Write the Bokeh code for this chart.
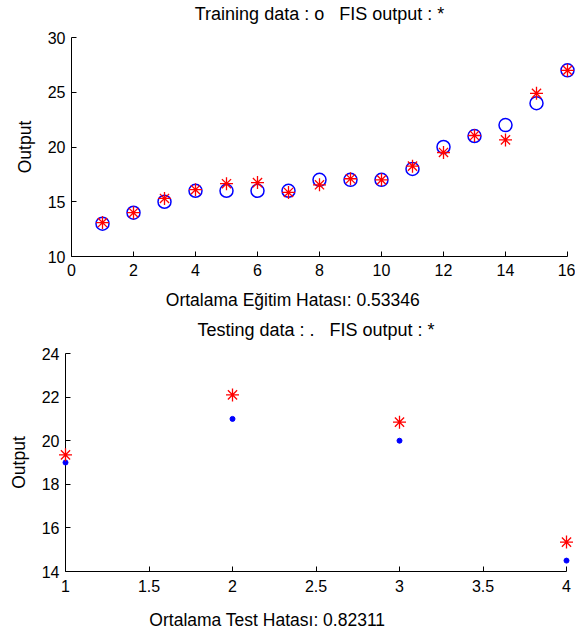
from bokeh.plotting import figure
from bokeh.layouts import column
from bokeh.models import Range1d, FixedTicker, CustomJSTickFormatter, LinearAxis
from bokeh.embed import file_html
from bokeh.resources import INLINE

# ---- data ----
train_x = list(range(1, 17))
train_y = [13, 14, 15, 16, 16, 16, 16, 17, 17, 17, 18, 20, 21, 22, 24, 27]
train_fis = [13.1, 14.0, 15.3, 16.1, 16.65, 16.75, 15.85, 16.55, 17.1, 17.0, 18.25, 19.5, 21.05, 20.65, 24.9, 27.0]

test_x = [1, 2, 3, 4]
test_y = [19.0, 21.0, 20.0, 14.5]
test_fis = [19.35, 22.1, 20.85, 15.35]

top_xticks = [0, 2, 4, 6, 8, 10, 12, 14, 16]
top_yticks = [10, 15, 20, 25, 30]
bot_xticks = [1, 1.5, 2, 2.5, 3, 3.5, 4]
bot_yticks = [14, 16, 18, 20, 22, 24]

top_title = "Training data : o \u00a0 FIS output : *"
top_xlabel = "Ortalama Eğitim Hatası: 0.53346"
bot_title = "Testing data : . \u00a0 FIS output : *"
bot_xlabel = "Ortalama Test Hatası: 0.82311"
ylabel = "Output"

FONT = "Liberation Sans"
NBSP = "\u00a0"
fmt = CustomJSTickFormatter(code="return String(Math.round(tick*1000)/1000);")


def text_axis(label, standoff, size):
    return LinearAxis(ticker=FixedTicker(ticks=[]), axis_label=label,
                      axis_line_color=None, major_tick_line_color=None,
                      minor_tick_line_color=None, major_label_standoff=0,
                      major_tick_in=0, major_tick_out=0, minor_tick_in=0, minor_tick_out=0,
                      axis_label_standoff=standoff, axis_label_text_font=FONT,
                      axis_label_text_font_size=size, axis_label_text_font_style="normal",
                      axis_label_text_color="black")


def style(p, xt, yt, title, xlabel, title_standoff, xlab_standoff, xlab_pad, xtick_standoff):
    xax = p.xaxis[0]
    yax = p.yaxis[0]
    p.xgrid.visible = False
    p.ygrid.visible = False
    p.outline_line_color = None
    p.background_fill_color = "white"
    p.border_fill_color = "white"
    p.frame_align = False
    for ax in (xax, yax):
        ax.major_tick_in = 5
        ax.major_tick_out = 0
        ax.minor_tick_line_color = None
        ax.major_label_text_font = FONT
        ax.major_label_text_font_size = "16px"
        ax.major_label_text_color = "black"
        ax.axis_line_color = "black"
        ax.major_tick_line_color = "black"
        ax.major_label_standoff = 6
        ax.formatter = fmt
    xax.major_label_standoff = xtick_standoff
    xax.ticker = FixedTicker(ticks=xt)
    yax.ticker = FixedTicker(ticks=yt)
    yax.axis_label = ylabel
    yax.axis_label_text_font = FONT
    yax.axis_label_text_font_size = "17.5px"
    yax.axis_label_text_font_style = "normal"
    yax.axis_label_text_color = "black"
    yax.axis_label_standoff = 10
    p.add_layout(text_axis(title, title_standoff, "18px"), "above")
    p.add_layout(text_axis(xlabel + NBSP * xlab_pad, xlab_standoff, "17.5px"), "below")


p1 = figure(width=575, height=316, x_range=Range1d(0, 16), y_range=Range1d(10, 30),
            output_backend="svg", toolbar_location=None,
            min_border_left=71, min_border_right=8, min_border_top=37, min_border_bottom=60)
style(p1, top_xticks, top_yticks, top_title, top_xlabel, 14, 11, 11, 7)
p1.scatter(train_x, train_y, marker="circle", size=13, fill_color=None,
           line_color="#0000ff", line_width=1.5, level="overlay")
p1.scatter(train_x, train_fis, marker="asterisk", size=13, line_color="#ff0000",
           line_width=1.3, level="overlay")

p2 = figure(width=575, height=318, x_range=Range1d(1, 4), y_range=Range1d(14, 24),
            output_backend="svg", toolbar_location=None,
            min_border_left=65, min_border_right=9, min_border_top=35, min_border_bottom=63)
style(p2, bot_xticks, bot_yticks, bot_title, bot_xlabel, 14, 15, 20, 8)
p2.scatter(test_x, test_y, marker="circle", size=5, fill_color="#0000ff", line_color="#0000ff",
           level="overlay")
p2.scatter(test_x, test_fis, marker="asterisk", size=13, line_color="#ff0000",
           line_width=1.3, level="overlay")

layout = column(p1, p2, spacing=0)
open("out.html", "w").write(file_html(layout, INLINE))
